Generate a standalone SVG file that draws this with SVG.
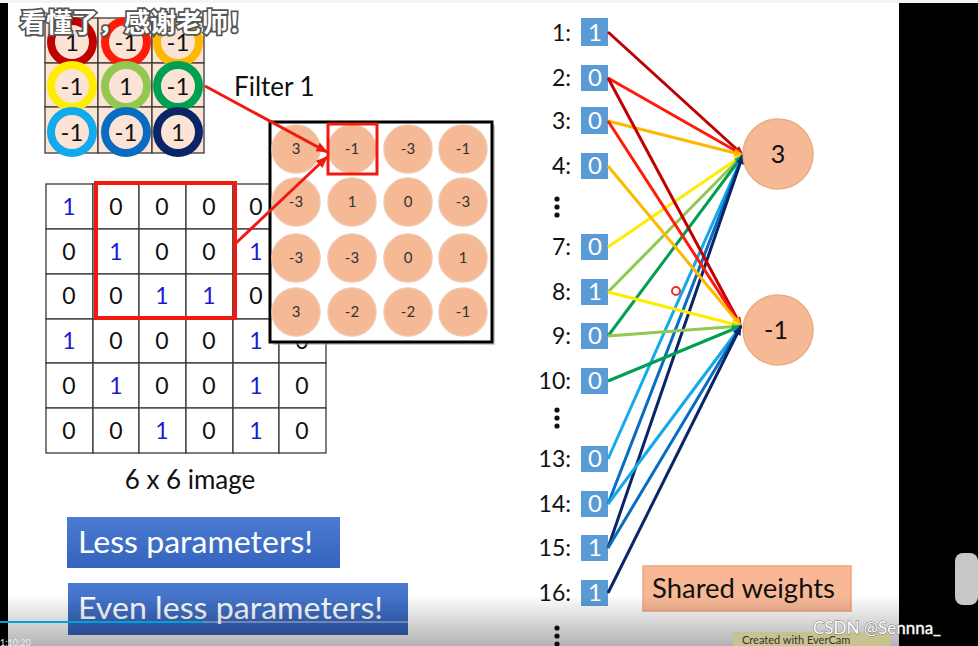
<svg xmlns="http://www.w3.org/2000/svg" width="978" height="646" viewBox="0 0 978 646">
<style>
text{font-family:Lato,"Liberation Sans","Noto Sans CJK SC",sans-serif}
.cell{fill:#fbe3d5;stroke:#3a3a3a;stroke-width:1.3}
.ring{fill:none;stroke-width:8}
.fv{font-size:24px;fill:#111;text-anchor:middle}
.g{fill:#fff;stroke:#3a3a3a;stroke-width:1.3}
.n{font-size:23px;fill:#111;text-anchor:middle}
.b{fill:#1a1ad0}
.fm{fill:#f6b995;stroke:#f1c6ad;stroke-width:1.5}
.fmt{font-size:15px;fill:#333;text-anchor:middle}
.lbl{font-size:23px;fill:#111;text-anchor:end}
.ib{fill:#5b9bd5}
.it{font-size:24px;fill:#fff;text-anchor:middle}
.dot{fill:#111}
.w{fill:none;stroke-width:3}
.bt{font-size:30px;fill:#fff}
</style>
<defs>
<marker id="m1" viewBox="0 0 10 8" refX="9" refY="4" markerWidth="10" markerHeight="8" markerUnits="userSpaceOnUse" orient="auto"><path d="M0,0L10,4L0,8z" fill="#c00000"/></marker>
<marker id="m2" viewBox="0 0 10 8" refX="9" refY="4" markerWidth="10" markerHeight="8" markerUnits="userSpaceOnUse" orient="auto"><path d="M0,0L10,4L0,8z" fill="#ff1a0a"/></marker>
<marker id="m3" viewBox="0 0 10 8" refX="9" refY="4" markerWidth="10" markerHeight="8" markerUnits="userSpaceOnUse" orient="auto"><path d="M0,0L10,4L0,8z" fill="#ffb800"/></marker>
<marker id="m4" viewBox="0 0 10 8" refX="9" refY="4" markerWidth="10" markerHeight="8" markerUnits="userSpaceOnUse" orient="auto"><path d="M0,0L10,4L0,8z" fill="#ffec00"/></marker>
<marker id="m5" viewBox="0 0 10 8" refX="9" refY="4" markerWidth="10" markerHeight="8" markerUnits="userSpaceOnUse" orient="auto"><path d="M0,0L10,4L0,8z" fill="#92c850"/></marker>
<marker id="m6" viewBox="0 0 10 8" refX="9" refY="4" markerWidth="10" markerHeight="8" markerUnits="userSpaceOnUse" orient="auto"><path d="M0,0L10,4L0,8z" fill="#00a050"/></marker>
<marker id="m7" viewBox="0 0 10 8" refX="9" refY="4" markerWidth="10" markerHeight="8" markerUnits="userSpaceOnUse" orient="auto"><path d="M0,0L10,4L0,8z" fill="#14a8ec"/></marker>
<marker id="m8" viewBox="0 0 10 8" refX="9" refY="4" markerWidth="10" markerHeight="8" markerUnits="userSpaceOnUse" orient="auto"><path d="M0,0L10,4L0,8z" fill="#0a6cc0"/></marker>
<marker id="m9" viewBox="0 0 10 8" refX="9" refY="4" markerWidth="10" markerHeight="8" markerUnits="userSpaceOnUse" orient="auto"><path d="M0,0L10,4L0,8z" fill="#0a2468"/></marker>
<marker id="mr" viewBox="0 0 10 8" refX="9" refY="4" markerWidth="12" markerHeight="10" markerUnits="userSpaceOnUse" orient="auto"><path d="M0,0L10,4L0,8z" fill="#f01a10"/></marker>
<linearGradient id="shade" x1="0" y1="0" x2="0" y2="1"><stop offset="0" stop-color="#000" stop-opacity="0"/><stop offset="1" stop-color="#000" stop-opacity="0.3"/></linearGradient>
<linearGradient id="btng" x1="0" y1="0" x2="0" y2="1"><stop offset="0" stop-color="#4a7bd0"/><stop offset="1" stop-color="#3563be"/></linearGradient>
</defs>
<rect width="978" height="646" fill="#fff"/>
<rect x="0" y="0" width="8" height="646" fill="#000"/>
<rect x="899" y="3" width="79" height="643" fill="#000"/>
<rect x="0" y="0" width="978" height="3" fill="#f4f4f4"/>

<g id="filter">
<rect class="cell" x="45" y="18" width="53" height="45"/><rect class="cell" x="98" y="18" width="54" height="45"/><rect class="cell" x="152" y="18" width="52" height="45"/>
<rect class="cell" x="45" y="63" width="53" height="44"/><rect class="cell" x="98" y="63" width="54" height="44"/><rect class="cell" x="152" y="63" width="52" height="44"/>
<rect class="cell" x="45" y="107" width="53" height="46"/><rect class="cell" x="98" y="107" width="54" height="46"/><rect class="cell" x="152" y="107" width="52" height="46"/>
<circle class="ring" cx="72" cy="42" r="21" stroke="#c00000"/>
<circle class="ring" cx="126" cy="42" r="21" stroke="#ff1a0a"/>
<circle class="ring" cx="178" cy="42" r="21" stroke="#ffb800"/>
<circle class="ring" cx="72" cy="86" r="21" stroke="#ffec00"/>
<circle class="ring" cx="126" cy="86" r="21" stroke="#92c850"/>
<circle class="ring" cx="178" cy="86" r="21" stroke="#00a050"/>
<circle class="ring" cx="72" cy="132" r="21" stroke="#14a8ec"/>
<circle class="ring" cx="126" cy="132" r="21" stroke="#0a6cc0"/>
<circle class="ring" cx="178" cy="132" r="21" stroke="#0a2468"/>
<text class="fv" x="72" y="51">1</text><text class="fv" x="126" y="51">-1</text><text class="fv" x="178" y="51">-1</text>
<text class="fv" x="72" y="95">-1</text><text class="fv" x="126" y="95">1</text><text class="fv" x="178" y="95">-1</text>
<text class="fv" x="72" y="141">-1</text><text class="fv" x="126" y="141">-1</text><text class="fv" x="178" y="141">1</text>
</g>
<text id="filter-label" x="234" y="96" font-size="26" fill="#111">Filter 1</text>

<g id="image">
<rect class="g" x="46" y="184" width="47" height="45"/><rect class="g" x="93" y="184" width="46" height="45"/><rect class="g" x="139" y="184" width="47" height="45"/><rect class="g" x="186" y="184" width="47" height="45"/><rect class="g" x="233" y="184" width="46" height="45"/><rect class="g" x="279" y="184" width="47" height="45"/>
<rect class="g" x="46" y="229" width="47" height="45"/><rect class="g" x="93" y="229" width="46" height="45"/><rect class="g" x="139" y="229" width="47" height="45"/><rect class="g" x="186" y="229" width="47" height="45"/><rect class="g" x="233" y="229" width="46" height="45"/><rect class="g" x="279" y="229" width="47" height="45"/>
<rect class="g" x="46" y="274" width="47" height="45"/><rect class="g" x="93" y="274" width="46" height="45"/><rect class="g" x="139" y="274" width="47" height="45"/><rect class="g" x="186" y="274" width="47" height="45"/><rect class="g" x="233" y="274" width="46" height="45"/><rect class="g" x="279" y="274" width="47" height="45"/>
<rect class="g" x="46" y="319" width="47" height="44"/><rect class="g" x="93" y="319" width="46" height="44"/><rect class="g" x="139" y="319" width="47" height="44"/><rect class="g" x="186" y="319" width="47" height="44"/><rect class="g" x="233" y="319" width="46" height="44"/><rect class="g" x="279" y="319" width="47" height="44"/>
<rect class="g" x="46" y="363" width="47" height="45"/><rect class="g" x="93" y="363" width="46" height="45"/><rect class="g" x="139" y="363" width="47" height="45"/><rect class="g" x="186" y="363" width="47" height="45"/><rect class="g" x="233" y="363" width="46" height="45"/><rect class="g" x="279" y="363" width="47" height="45"/>
<rect class="g" x="46" y="408" width="47" height="45"/><rect class="g" x="93" y="408" width="46" height="45"/><rect class="g" x="139" y="408" width="47" height="45"/><rect class="g" x="186" y="408" width="47" height="45"/><rect class="g" x="233" y="408" width="46" height="45"/><rect class="g" x="279" y="408" width="47" height="45"/>
<text class="n b" x="69" y="215">1</text><text class="n" x="116" y="215">0</text><text class="n" x="162" y="215">0</text><text class="n" x="209" y="215">0</text><text class="n" x="256" y="215">0</text>
<text class="n" x="69" y="260">0</text><text class="n b" x="116" y="260">1</text><text class="n" x="162" y="260">0</text><text class="n" x="209" y="260">0</text><text class="n b" x="256" y="260">1</text>
<text class="n" x="69" y="304">0</text><text class="n" x="116" y="304">0</text><text class="n b" x="162" y="304">1</text><text class="n b" x="209" y="304">1</text><text class="n" x="256" y="304">0</text>
<text class="n b" x="69" y="349">1</text><text class="n" x="116" y="349">0</text><text class="n" x="162" y="349">0</text><text class="n" x="209" y="349">0</text><text class="n b" x="256" y="349">1</text><text class="n" x="302" y="349">0</text>
<text class="n" x="69" y="394">0</text><text class="n b" x="116" y="394">1</text><text class="n" x="162" y="394">0</text><text class="n" x="209" y="394">0</text><text class="n b" x="256" y="394">1</text><text class="n" x="302" y="394">0</text>
<text class="n" x="69" y="439">0</text><text class="n" x="116" y="439">0</text><text class="n b" x="162" y="439">1</text><text class="n" x="209" y="439">0</text><text class="n b" x="256" y="439">1</text><text class="n" x="302" y="439">0</text>
<rect x="96" y="183" width="139" height="135" fill="none" stroke="#f01a10" stroke-width="4"/>
</g>
<text id="image-label" x="190" y="489" font-size="26" fill="#111" text-anchor="middle">6 x 6 image</text>

<g id="feature-map">
<rect x="273" y="125" width="222" height="220" fill="#999" opacity="0.5"/>
<rect x="270" y="122" width="222" height="220" fill="#fff" stroke="#000" stroke-width="3"/>
<circle class="fm" cx="296" cy="149" r="24"/><circle class="fm" cx="352" cy="149" r="24"/><circle class="fm" cx="408" cy="149" r="24"/><circle class="fm" cx="463" cy="149" r="24"/>
<circle class="fm" cx="296" cy="202" r="24"/><circle class="fm" cx="352" cy="202" r="24"/><circle class="fm" cx="408" cy="202" r="24"/><circle class="fm" cx="463" cy="202" r="24"/>
<circle class="fm" cx="296" cy="258" r="24"/><circle class="fm" cx="352" cy="258" r="24"/><circle class="fm" cx="408" cy="258" r="24"/><circle class="fm" cx="463" cy="258" r="24"/>
<circle class="fm" cx="296" cy="312" r="24"/><circle class="fm" cx="352" cy="312" r="24"/><circle class="fm" cx="408" cy="312" r="24"/><circle class="fm" cx="463" cy="312" r="24"/>
<text class="fmt" x="296" y="154">3</text><text class="fmt" x="352" y="154">-1</text><text class="fmt" x="408" y="154">-3</text><text class="fmt" x="463" y="154">-1</text>
<text class="fmt" x="296" y="207">-3</text><text class="fmt" x="352" y="207">1</text><text class="fmt" x="408" y="207">0</text><text class="fmt" x="463" y="207">-3</text>
<text class="fmt" x="296" y="263">-3</text><text class="fmt" x="352" y="263">-3</text><text class="fmt" x="408" y="263">0</text><text class="fmt" x="463" y="263">1</text>
<text class="fmt" x="296" y="317">3</text><text class="fmt" x="352" y="317">-2</text><text class="fmt" x="408" y="317">-2</text><text class="fmt" x="463" y="317">-1</text>
<rect x="328" y="124" width="49" height="50" fill="none" stroke="#f01a10" stroke-width="3"/>
</g>

<g id="inputs">
<text class="lbl" x="571" y="41">1:</text><rect class="ib" x="581" y="18" width="27" height="28"/><text class="it" x="595" y="41">1</text>
<text class="lbl" x="571" y="86">2:</text><rect class="ib" x="581" y="65" width="27" height="26"/><text class="it" x="595" y="86">0</text>
<text class="lbl" x="571" y="129">3:</text><rect class="ib" x="581" y="107" width="27" height="27"/><text class="it" x="595" y="129">0</text>
<text class="lbl" x="571" y="174">4:</text><rect class="ib" x="581" y="153" width="27" height="26"/><text class="it" x="595" y="174">0</text>
<circle class="dot" cx="557" cy="199" r="2.6"/><circle class="dot" cx="557" cy="207" r="2.6"/><circle class="dot" cx="557" cy="215" r="2.6"/>
<text class="lbl" x="571" y="255">7:</text><rect class="ib" x="581" y="234" width="27" height="26"/><text class="it" x="595" y="255">0</text>
<text class="lbl" x="571" y="300">8:</text><rect class="ib" x="581" y="279" width="27" height="26"/><text class="it" x="595" y="300">1</text>
<text class="lbl" x="571" y="344">9:</text><rect class="ib" x="581" y="323" width="27" height="26"/><text class="it" x="595" y="344">0</text>
<text class="lbl" x="571" y="389">10:</text><rect class="ib" x="581" y="368" width="27" height="26"/><text class="it" x="595" y="389">0</text>
<circle class="dot" cx="557" cy="410" r="2.6"/><circle class="dot" cx="557" cy="418" r="2.6"/><circle class="dot" cx="557" cy="426" r="2.6"/>
<text class="lbl" x="571" y="467">13:</text><rect class="ib" x="581" y="446" width="27" height="26"/><text class="it" x="595" y="467">0</text>
<text class="lbl" x="571" y="512">14:</text><rect class="ib" x="581" y="491" width="27" height="26"/><text class="it" x="595" y="512">0</text>
<text class="lbl" x="571" y="556">15:</text><rect class="ib" x="581" y="535" width="27" height="26"/><text class="it" x="595" y="556">1</text>
<text class="lbl" x="571" y="601">16:</text><rect class="ib" x="581" y="580" width="27" height="26"/><text class="it" x="595" y="601">1</text>
<circle class="dot" cx="557" cy="628" r="2.6"/><circle class="dot" cx="557" cy="636" r="2.6"/><circle class="dot" cx="557" cy="644" r="2.6"/>
</g>

<g id="connectors">
<path d="M205,86L327,152" fill="none" stroke="#f01a10" stroke-width="3" marker-end="url(#mr)"/>
<path d="M236,243L327,157" fill="none" stroke="#f01a10" stroke-width="3" marker-end="url(#mr)"/>
<path class="w" d="M608,32L743,155" stroke="#c00000" marker-end="url(#m1)"/>
<path class="w" d="M608,78L743,155" stroke="#ff1a0a" marker-end="url(#m2)"/>
<path class="w" d="M608,121L743,155" stroke="#ffb800" marker-end="url(#m3)"/>
<path class="w" d="M608,247L743,155" stroke="#ffec00" marker-end="url(#m4)"/>
<path class="w" d="M608,292L743,155" stroke="#92c850" marker-end="url(#m5)"/>
<path class="w" d="M608,336L743,155" stroke="#00a050" marker-end="url(#m6)"/>
<path class="w" d="M608,459L743,155" stroke="#14a8ec" marker-end="url(#m7)"/>
<path class="w" d="M608,504L743,155" stroke="#0a6cc0" marker-end="url(#m8)"/>
<path class="w" d="M608,548L743,155" stroke="#0a2468" marker-end="url(#m9)"/>
<path class="w" d="M608,78L741,326" stroke="#c00000" marker-end="url(#m1)"/>
<path class="w" d="M608,121L741,326" stroke="#ff1a0a" marker-end="url(#m2)"/>
<path class="w" d="M608,166L741,326" stroke="#ffb800" marker-end="url(#m3)"/>
<path class="w" d="M608,292L741,326" stroke="#ffec00" marker-end="url(#m4)"/>
<path class="w" d="M608,336L741,326" stroke="#92c850" marker-end="url(#m5)"/>
<path class="w" d="M608,381L741,326" stroke="#00a050" marker-end="url(#m6)"/>
<path class="w" d="M608,504L741,326" stroke="#14a8ec" marker-end="url(#m7)"/>
<path class="w" d="M608,548L741,326" stroke="#0a6cc0" marker-end="url(#m8)"/>
<path class="w" d="M608,593L741,326" stroke="#0a2468" marker-end="url(#m9)"/>
</g>

<g id="neuron-1">
<circle cx="778" cy="154" r="35" fill="#f6b995" stroke="#eeaa80" stroke-width="1.5"/>
<text x="778" y="163" font-size="25" fill="#111" text-anchor="middle">3</text>
</g>
<g id="neuron-2">
<circle cx="778" cy="330" r="35" fill="#f6b995" stroke="#eeaa80" stroke-width="1.5"/>
<text x="776" y="339" font-size="25" fill="#111" text-anchor="middle">-1</text>
</g>

<circle cx="676" cy="291" r="4" fill="none" stroke="#e83030" stroke-width="2"/>

<g id="shared-weights">
<rect x="643" y="566" width="208" height="45" fill="#f8b896" stroke="#f0a57e" stroke-width="1.5"/>
<text x="652" y="598" font-size="27" fill="#111" textLength="183" lengthAdjust="spacingAndGlyphs">Shared weights</text>
</g>

<g id="less-params">
<rect x="67" y="517" width="273" height="51" fill="url(#btng)"/>
<text class="bt" x="78" y="553" textLength="235" lengthAdjust="spacingAndGlyphs">Less parameters!</text>
</g>
<g id="even-less-params">
<rect x="68" y="583" width="340" height="52" fill="url(#btng)"/>
<text class="bt" x="78" y="619" textLength="305" lengthAdjust="spacingAndGlyphs">Even less parameters!</text>
</g>

<text x="20" y="32" font-size="26" font-weight="bold" fill="#fff" stroke="#555" stroke-width="3.5" paint-order="stroke" font-family="'Noto Sans CJK SC',sans-serif">看懂了，感谢老师！</text>

<rect x="0" y="595" width="899" height="51" fill="url(#shade)"/>
<rect x="955" y="553" width="23" height="52" rx="8" fill="#c8c8c8"/>
<line x1="0" y1="622" x2="203" y2="622" stroke="#00a1d6" stroke-width="2"/>
<line x1="203" y1="622" x2="898" y2="622" stroke="#ddd" stroke-width="1" opacity="0.7"/>
<rect x="733" y="632" width="157" height="14" fill="#c8c290"/>
<text x="742" y="644" font-size="11" fill="#333" font-family="'Liberation Sans',sans-serif">Created with EverCam</text>
<text x="813" y="634" font-size="17" fill="#fff" stroke="#777" stroke-width="1" paint-order="stroke" font-family="'Liberation Sans',sans-serif">CSDN @Sennna_</text>
<text x="0" y="646" font-size="9" fill="#eee" font-family="'Liberation Sans',sans-serif">1:10:20</text>
</svg>
